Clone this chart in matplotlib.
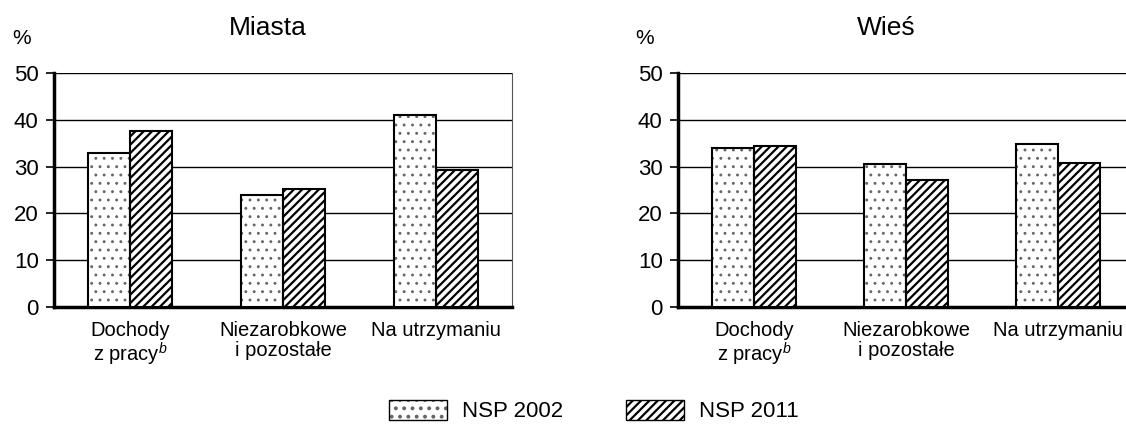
import numpy as np
import matplotlib
matplotlib.use("Agg")
import matplotlib.pyplot as plt

plt.rcParams['font.family'] = ['Liberation Sans', 'DejaVu Sans']
plt.rcParams['mathtext.fontset'] = 'custom'
plt.rcParams['mathtext.rm'] = 'Liberation Sans'
plt.rcParams['mathtext.it'] = 'Liberation Sans:italic'

categories = ["Dochody\nz pracy$^{b}$", "Niezarobkowe\ni pozostałe", "Na utrzymaniu"]
series_names = ["NSP 2002", "NSP 2011"]
miasta_2002 = [33.0, 24.0, 41.0]
miasta_2011 = [37.5, 25.3, 29.3]
wies_2002 = [34.0, 30.5, 34.8]
wies_2011 = [34.3, 27.2, 30.8]
yticks = [0, 10, 20, 30, 40, 50]

W, H = 1126, 428
fig = plt.figure(figsize=(W / 100, H / 100), dpi=100)

def px_axes(x0, x1, y0, y1):
    return fig.add_axes([x0 / W, 1 - y1 / H, (x1 - x0) / W, (y1 - y0) / H])

ax1 = px_axes(54, 512, 73, 307)
ax2 = px_axes(678, 1134, 73, 307)

bw = 0.275
for ax, v02, v11, title, tx in [(ax1, miasta_2002, miasta_2011, "Miasta", 268),
                                (ax2, wies_2002, wies_2011, "Wieś", 886)]:
    x = np.arange(len(categories))
    # dotted bars: grey hatch first, then black outline on top
    plt.rcParams['hatch.linewidth'] = 0.9
    ax.bar(x - bw / 2, v02, bw, color='white', edgecolor='#666666', linewidth=0,
           hatch='..', zorder=3)
    ax.bar(x - bw / 2, v02, bw, fill=False, edgecolor='black', linewidth=1.5, zorder=4)
    plt.rcParams['hatch.linewidth'] = 1.6
    ax.bar(x + bw / 2, v11, bw, color='white', edgecolor='black', linewidth=1.5,
           hatch='////', zorder=3)
    ax.set_xlim(-0.5, 2.5)
    ax.set_ylim(0, 50)
    ax.set_yticks(yticks)
    ax.yaxis.grid(True, color='black', linewidth=1.0, zorder=0)
    ax.set_axisbelow(True)
    ax.set_xticks(x)
    ax.set_xticklabels(categories, fontsize=14.5, linespacing=1.05)
    ax.tick_params(axis='x', length=0, pad=10)
    ax.tick_params(axis='y', length=6, width=1.2, labelsize=16, pad=5)
    for s in ['left', 'bottom']:
        ax.spines[s].set_linewidth(2.5)
    ax.spines['top'].set_visible(False)
    ax.spines['right'].set_linewidth(0.8)
    ax.spines['right'].set_color('#555555')
    fig.text(tx / W, 1 - 28 / H, title, ha='center', va='center', fontsize=19)

fig.text(22 / W, 1 - 38 / H, "%", ha='center', va='center', fontsize=15)
fig.text(645 / W, 1 - 38 / H, "%", ha='center', va='center', fontsize=15)

plt.rcParams['hatch.linewidth'] = 0.9
h02a = plt.Rectangle((0, 0), 1, 1, facecolor='white', edgecolor='#666666', linewidth=0, hatch='..')
h02b = plt.Rectangle((0, 0), 1, 1, fill=False, edgecolor='black', linewidth=1.0)
plt.rcParams['hatch.linewidth'] = 1.6
h11 = plt.Rectangle((0, 0), 1, 1, facecolor='white', edgecolor='black', linewidth=1.0, hatch='////')
fig.legend([(h02a, h02b), h11], series_names, loc='center', bbox_to_anchor=(594 / W, 1 - 411 / H),
           ncol=2, frameon=False, fontsize=16, handlelength=2.6, handleheight=1.0,
           columnspacing=2.8, handletextpad=0.7)

fig.savefig("out.png", dpi=100)
